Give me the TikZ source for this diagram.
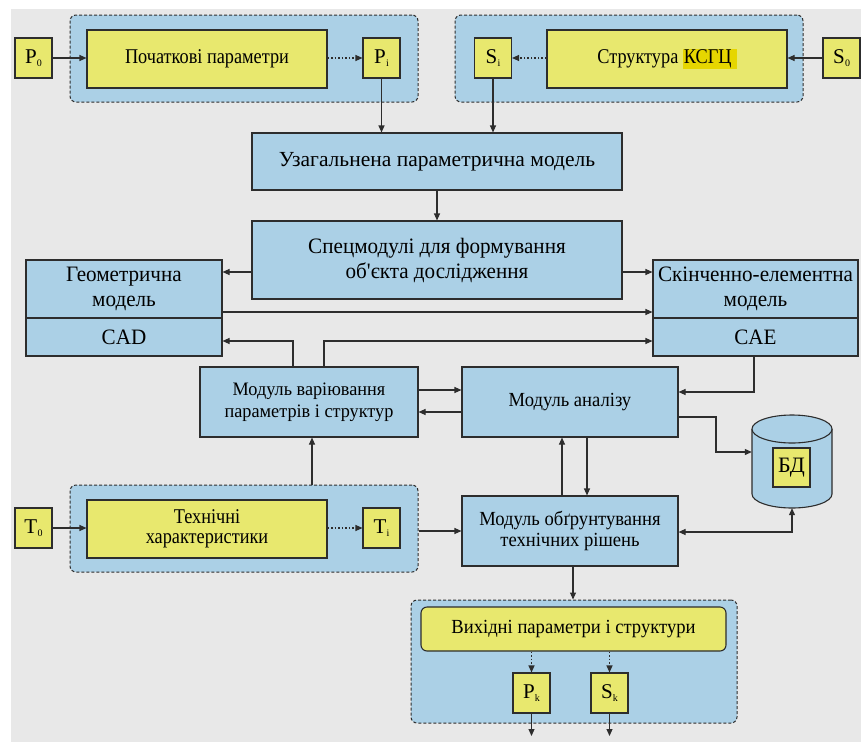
\documentclass[tikz,border=0pt]{standalone}
\usepackage{fontspec}
\setmainfont{Liberation Serif}
\newfontfamily\fA{Liberation Serif}[FakeStretch=0.87]
\newfontfamily\fB{Liberation Serif}[FakeStretch=0.96]
\newfontfamily\fC{Liberation Serif}[FakeStretch=0.93]
\usetikzlibrary{arrows.meta,calc}
\definecolor{bg}{RGB}{232,232,232}
\definecolor{bl}{RGB}{171,208,230}
\definecolor{yl}{RGB}{232,232,110}
\definecolor{hl}{RGB}{230,214,0}
\definecolor{ln}{RGB}{45,45,45}
\newcommand{\sq}[2]{#1\kern0.3pt\raisebox{-3pt}{\fontsize{10}{10}\selectfont #2}}
\begin{document}
\begin{tikzpicture}[x=1pt,y=-1pt,
  box/.style={draw=ln, line width=1.1pt, fill=bl, align=center, inner sep=0pt, text=black},
  ybox/.style={draw=ln, line width=1.1pt, fill=yl, align=center, inner sep=0pt, text=black},
  sbox/.style={ybox, minimum width=37, minimum height=40, font=\fontsize{21}{22}\selectfont},
  grp/.style={draw=ln, line width=1pt, dash pattern=on 3pt off 2pt, rounded corners=6pt, fill=bl, inner sep=0pt},
  arr/.style={draw=ln, line width=1.1pt, -{Triangle[length=7pt,width=6pt]}},
  darr/.style={arr, dash pattern=on 1.5pt off 2pt},
  fy/.style={font=\fA\fontsize{21}{20}\selectfont},
  fu/.style={font=\fontsize{21.5}{25}\selectfont},
  fl/.style={font=\fB\fontsize{22}{25}\selectfont},
  fv/.style={font=\fB\fontsize{19}{22}\selectfont},
  fc/.style={font=\fC\fontsize{20}{21}\selectfont}
]
\useasboundingbox (0,0) rectangle (861,742);
\fill[bg] (11,9) rectangle (861,742);

% groups
\node[grp, minimum width=348, minimum height=87] (g1) at (244,58.5) {};
\node[grp, minimum width=348, minimum height=87] (g2) at (629,58.5) {};
\node[grp, minimum width=348, minimum height=87] (g3) at (244,528.5) {};
\node[grp, minimum width=326, minimum height=123] (g4) at (574,661.5) {};

% top row
\node[sbox] (P0) at (33.5,58) {\sq{P}{0}};
\node[ybox, fy, minimum width=240, minimum height=58] (poch) at (207,59) {Початкові параметри};
\node[sbox] (Pi) at (381.5,58) {\sq{P}{i}};
\node[sbox] (Si) at (493,58) {\sq{S}{i}};
\node[ybox, fy, minimum width=240, minimum height=58] (str) at (667,59) {Структура {\setlength\fboxsep{1pt}\colorbox{hl}{КСГЦ\kern4pt}}};
\node[sbox] (S0) at (841.5,58) {\sq{S}{0}};

% middle
\node[box, fu, minimum width=370, minimum height=57] (uz) at (437,161.5) {Узагальнена параметрична модель};
\node[box, fl, minimum width=370, minimum height=78] (sp) at (437,260) {Спецмодулі для формування\\об'єкта дослідження};
\node[box, fl, minimum width=196, minimum height=58] (geT) at (124,289) {Геометрична\\модель};
\node[box, fl, minimum width=196, minimum height=38] (geB) at (124,337) {CAD};
\node[box, fl, minimum width=205, minimum height=58] (skT) at (755.5,289) {Скінченно-елементна\\модель};
\node[box, fl, minimum width=205, minimum height=38] (skB) at (755.5,337) {CAE};

\node[box, fv, minimum width=218, minimum height=70] (var) at (309,402) {Модуль варіювання\\параметрів і структур};
\node[box, fc, minimum width=216, minimum height=70] (an) at (570,402) {Модуль аналізу};
\node[box, fc, minimum width=216, minimum height=70] (ob) at (570,531) {Модуль обґрунтування\\технічних рішень};

% bottom-left
\node[sbox] (T0) at (33.5,528) {\sq{T}{0}};
\node[ybox, fy, minimum width=240, minimum height=58] (tech) at (207,529) {Технічні\\характеристики};
\node[sbox] (Ti) at (381.5,528) {\sq{T}{i}};

% output
\node[ybox, fc, rounded corners=6pt, minimum width=305, minimum height=44] (vy) at (573.5,629) {Вихідні параметри і структури};
\node[sbox] (Pk) at (531.5,693) {\sq{P}{k}};
\node[sbox] (Sk) at (609.5,693) {\sq{S}{k}};
\coordinate (pkend) at (531.5,736);
\coordinate (skend) at (609.5,736);

% database cylinder
\node[minimum width=80, minimum height=93, inner sep=0pt] (db) at (792,461.5) {};
\path[fill=bl, draw=ln, line width=1.1pt] (752,429) -- (752,494) arc[start angle=180, end angle=360, x radius=40pt, y radius=14pt] -- (832,429);
\draw[fill=bl, draw=ln, line width=1.1pt] (792,429) ellipse[x radius=40pt, y radius=14pt];
\node[sbox, font=\fontsize{22}{22}\selectfont, minimum height=39] (bd) at (791.5,467.5) {БД};

% helper coordinates
\coordinate (h272) at (0,272);
\coordinate (h312) at (0,312);
\coordinate (h341) at (0,341);
\coordinate (h390) at (0,390);
\coordinate (h392) at (0,392);
\coordinate (h412) at (0,412);
\coordinate (h417) at (0,417);
\coordinate (h452) at (0,452);
\coordinate (h532) at (0,532);
\coordinate (v293) at (293,0);
\coordinate (v324) at (324,0);
\coordinate (v754) at (754,0);
\coordinate (v716) at (716,0);
\coordinate (v562) at (562,0);
\coordinate (v587) at (587,0);
\coordinate (v312) at (312,0);
\coordinate (v573) at (573,0);

% connectors
\draw[arr] (P0.east) -- (P0.east -| poch.west);
\draw[darr] (poch.east |- Pi) -- (Pi.west);
\draw[arr] (Pi.south) -- (Pi.south |- uz.north);
\draw[arr] (S0.west) -- (S0.west -| str.east);
\draw[darr] (str.west |- Si) -- (Si.east);
\draw[arr] (Si.south) -- (Si.south |- uz.north);
\draw[arr] (uz.south) -- (sp.north);
\draw[arr] (sp.west |- h272) -- (geT.east |- h272);
\draw[arr] (sp.east |- h272) -- (skT.west |- h272);
\draw[arr] (geT.east |- h312) -- (skT.west |- h312);
\draw[arr] (var.north -| v293) |- (geB.east |- h341);
\draw[arr] (var.north -| v324) |- (skB.west |- h341);
\draw[arr] (skB.south -| v754) |- (an.east |- h392);
\draw[arr] (var.east |- h390) -- (an.west |- h390);
\draw[arr] (an.west |- h412) -- (var.east |- h412);
\draw[arr] (an.east |- h417) -| (v716 |- h452) -- (db.west |- h452);
\draw[arr] (ob.north -| v562) -- (an.south -| v562);
\draw[arr] (an.south -| v587) -- (ob.north -| v587);
\draw[arr, {Triangle[length=7pt,width=6pt]}-{Triangle[length=7pt,width=6pt]}] (ob.east |- h532) -| (db.south);
\draw[arr] (g3.north -| v312) -- (var.south -| v312);
\draw[arr] (T0.east) -- (T0.east -| tech.west);
\draw[darr] (tech.east |- Ti) -- (Ti.west);
\draw[arr] (g3.east |- ob.west) -- (ob.west);
\draw[arr] (ob.south -| v573) -- (g4.north -| v573);
\draw[darr] (vy.south -| Pk) -- (Pk.north);
\draw[darr] (vy.south -| Sk) -- (Sk.north);
\draw[arr] (Pk.south) -- (pkend);
\draw[arr] (Sk.south) -- (skend);
\end{tikzpicture}
\end{document}
